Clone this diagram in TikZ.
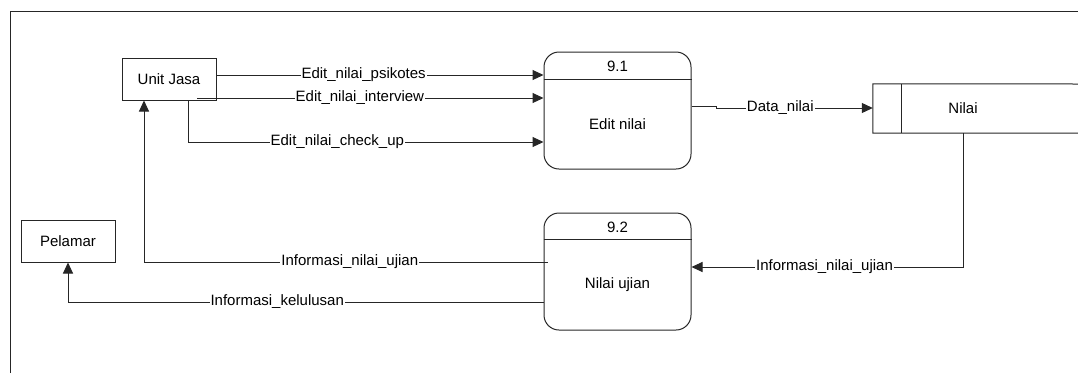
\documentclass[tikz,border=0pt]{standalone}
\usepackage{fontspec}
\setmainfont{Liberation Sans}
\usetikzlibrary{arrows.meta,calc}
\begin{document}
\begin{tikzpicture}[x=1pt,y=-1pt,
  every node/.style={font=\fontsize{15}{17}\selectfont, text=black},
  ln/.style={line width=1pt, draw=black!85},
  arr/.style={ln, -{Triangle[length=11pt,width=10pt]}},
  ent/.style={ln, rectangle, minimum width=94pt, minimum height=42pt, inner sep=0pt},
  proc/.style={ln, rectangle, rounded corners=15pt, minimum width=147pt, minimum height=117pt, inner sep=0pt},
  lab/.style={fill=white, inner sep=1pt}]
\useasboundingbox (0,0) rectangle (1078,373);
% frame
\draw[ln] (10,373) -- (10,11) -- (1078,11);
% entities
\node[ent] (uj) at (169,79) {Unit Jasa};
\node[ent] (pel) at (68,241) {Pelamar};
% processes
\node[proc] (p1) at (617.5,110.5) {};
\draw[ln] ($(p1.north west)+(0,28)$) -- ($(p1.north east)+(0,28)$);
\node (p1t) at (617.5,66) {9.1};
\node (p1n) at (617.5,124) {Edit nilai};
\node[proc] (p2) at (617.5,271.5) {};
\draw[ln] ($(p2.north west)+(0,27)$) -- ($(p2.north east)+(0,27)$);
\node (p2t) at (617.5,227) {9.2};
\node (p2n) at (617.5,285) {Nilai ujian};
% data store
\node[minimum width=205pt, minimum height=49pt, inner sep=0pt] (st) at (975.5,108.5) {};
\draw[ln] (1078,84) -- (st.north west) -- (st.south west) -- (1078,133);
\draw[ln] ($(st.north west)+(29,0)$) -- ($(st.south west)+(29,0)$);
\node (stn) at (963,108) {Nilai};
% helper coordinates
\coordinate (y1) at (0,75);
\coordinate (y2) at (0,98);
\coordinate (y3) at (0,142);
\coordinate (c3) at (188,142);
\coordinate (d1) at (716,106);
\coordinate (d2) at (716,108);
\coordinate (n1) at (963,267);
\coordinate (u1) at (144,262);
\coordinate (k1) at (68,302);
% flows
\draw[arr] (uj.east |- y1) -- node[lab, pos=0.45] {Edit\_nilai\_psikotes} (p1.west |- y1);
\draw[arr] (197,98) -- node[lab, pos=0.47] {Edit\_nilai\_interview} (p1.west |- y2);
\draw[arr] (uj.south -| c3) -- (c3) -- node[lab, pos=0.42] {Edit\_nilai\_check\_up} (p1.west |- y3);
\draw[arr] (p1.east |- d1) -- (d1) -- (d2) -- node[lab, pos=0.41] {Data\_nilai} (st.west |- d2);
\draw[arr] (st.south -| n1) -- (n1) -- node[lab, pos=0.51] {Informasi\_nilai\_ujian} (p2.east |- n1);
\draw[arr] ($(p2.west |- u1)+(4,0)$) -- node[lab, pos=0.49] {Informasi\_nilai\_ujian} (u1) -- (uj.south -| u1);
\draw[arr] (p2.west |- k1) -- node[lab, pos=0.56] {Informasi\_kelulusan} (k1) -- (pel.south);
\end{tikzpicture}
\end{document}
